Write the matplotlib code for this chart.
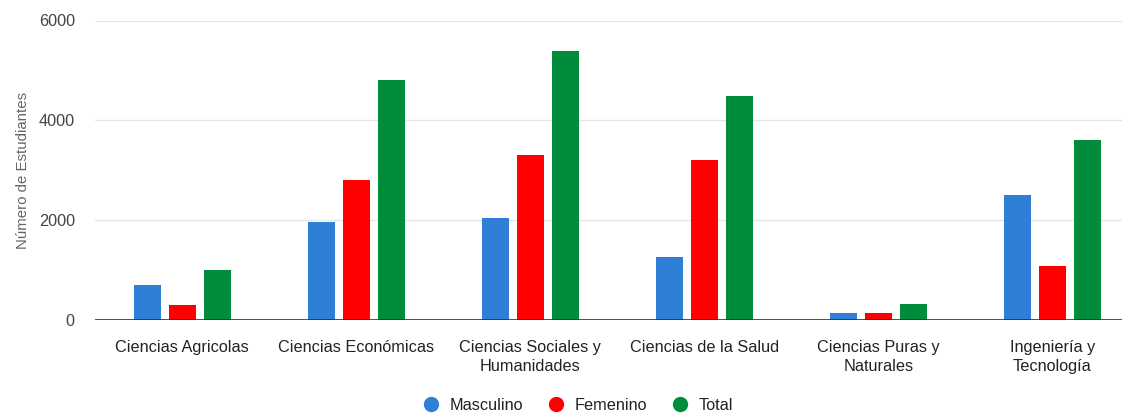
import numpy as np
import matplotlib
matplotlib.use('Agg')
import matplotlib.pyplot as plt
from matplotlib.lines import Line2D

plt.rcParams['font.family'] = ['Liberation Sans', 'DejaVu Sans']

categories = ['Ciencias Agricolas', 'Ciencias Económicas', 'Ciencias Sociales y\nHumanidades',
              'Ciencias de la Salud', 'Ciencias Puras y\nNaturales', 'Ingeniería y\nTecnología']
masculino = [700, 1960, 2050, 1270, 150, 2510]
femenino = [300, 2810, 3300, 3200, 150, 1080]
total = [1010, 4800, 5380, 4490, 320, 3610]
series_names = ['Masculino', 'Femenino', 'Total']
colors = ['#2F7ED8', '#FF0000', '#008C3A']

W, H = 1122, 413
fig = plt.figure(figsize=(W / 100, H / 100), dpi=100)
ax = fig.add_axes([95 / W, (H - 320) / H, (W - 95) / W, (320 - 20.5) / H])

x = np.arange(len(categories))
bw = 0.155
step = 0.201
for i, (vals, c) in enumerate(zip([masculino, femenino, total], colors)):
    ax.bar(x + (i - 1) * step, vals, width=bw, color=c, zorder=3)

ax.set_xlim(-0.5, 5.40)
ax.set_ylim(0, 6000)
ax.set_yticks([0, 2000, 4000, 6000])
ax.yaxis.grid(True, color='#e6e6e6', linewidth=1, zorder=0)
ax.axhline(0, color='#333333', linewidth=1.2, zorder=4)
for s in ax.spines.values():
    s.set_visible(False)
ax.tick_params(axis='both', length=0)
ax.tick_params(axis='y', labelsize=11.7, labelcolor='#444444', pad=14.5)
ax.set_xticks(x)
ax.set_xticklabels(categories, fontsize=11.7, color='#222222', linespacing=1.3)
ax.tick_params(axis='x', pad=14.5)

fig.text(23 / W, 1 - 170 / H, 'Número de Estudiantes', rotation=90, ha='center', va='center',
         fontsize=10.8, color='#666666')

handles = [Line2D([], [], marker='o', linestyle='', markersize=10, color=c) for c in colors]
fig.legend(handles, series_names, loc='center', bbox_to_anchor=(574 / W, 1 - 405 / H),
           ncol=3, frameon=False, fontsize=11.7, handletextpad=0.15, columnspacing=1.0,
           labelcolor='#222222')

fig.savefig('out.png', dpi=100)
